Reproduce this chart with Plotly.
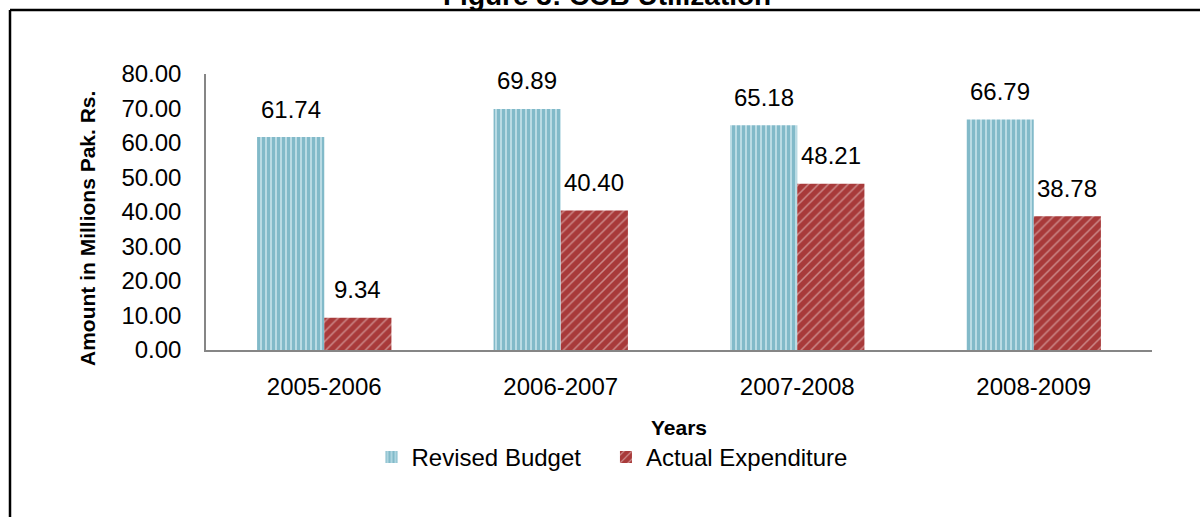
import plotly.graph_objects as go

years = ["2005-2006", "2006-2007", "2007-2008", "2008-2009"]
revised_budget = [61.74, 69.89, 65.18, 66.79]
actual_expenditure = [9.34, 40.40, 48.21, 38.78]
y_ticks = [0, 10, 20, 30, 40, 50, 60, 70, 80]

W, H = 1200, 517
ML, MR, MT, MB = 206, 48, 74, 167
PW, PH = W - ML - MR, H - MT - MB
BARGAP = 0.432


def px_x(p):
    return (p - ML) / PW


def px_y(p):
    return (H - MB - p) / PH


FONT = "Liberation Sans, Arial, sans-serif"
SIZE = 24

fig = go.Figure()
fig.add_trace(go.Bar(
    name="Revised Budget&nbsp;&nbsp;&nbsp;", x=years, y=revised_budget,
    marker=dict(color="#c6e4ec", line=dict(width=0),
                pattern=dict(shape="|", fgcolor="#3a8ea6", bgcolor="#cbe6ed",
                             size=5, solidity=0.7)),
))
fig.add_trace(go.Bar(
    name="Actual Expenditure", x=years, y=actual_expenditure,
    marker=dict(color="#a83a3a", line=dict(width=0),
                pattern=dict(shape="/", fgcolor="#f0d8d8", bgcolor="#a83a3a",
                             size=7, solidity=0.22)),
))

# value labels above each bar (bar centres sit a quarter of the group width off the category)
half = (1 - BARGAP) / 4
for series, off in ((revised_budget, -half), (actual_expenditure, half)):
    for i, v in enumerate(series):
        fig.add_annotation(
            x=i + off, y=v, xref="x", yref="y", text=f"{v:.2f}",
            showarrow=False, yanchor="middle", yshift=28,
            font=dict(family=FONT, size=SIZE, color="#000000"),
        )

# chart title, partly above the page edge
fig.add_annotation(
    x=px_x(607), y=px_y(13), xref="paper", yref="paper",
    text="<b>Figure 3: CCB Utilization</b>", showarrow=False,
    xanchor="center", yanchor="bottom",
    font=dict(family=FONT, size=28, color="#000000"),
)

# y-axis title
fig.add_annotation(
    x=px_x(87), y=px_y(228), xref="paper", yref="paper",
    text="<b>Amount in Millions Pak. Rs.</b>", showarrow=False,
    textangle=-90, xanchor="center", yanchor="middle",
    font=dict(family=FONT, size=21, color="#000000"),
)

# outer frame (left and top edges)
frame = dict(color="#000000", width=2.5)
fig.add_shape(type="line", xref="paper", yref="paper",
              x0=px_x(10), x1=px_x(10), y0=px_y(10), y1=px_y(530), line=frame)
fig.add_shape(type="line", xref="paper", yref="paper",
              x0=px_x(10), x1=px_x(1210), y0=px_y(10), y1=px_y(10), line=frame)

fig.update_layout(
    width=W, height=H,
    margin=dict(l=ML, r=MR, t=MT, b=MB),
    paper_bgcolor="#ffffff", plot_bgcolor="#ffffff",
    barmode="group", bargap=BARGAP, bargroupgap=0,
    font=dict(family=FONT, size=SIZE, color="#000000"),
    showlegend=True,
    legend=dict(orientation="h", x=px_x(612), xanchor="center", y=px_y(435),
                yanchor="top", font=dict(family=FONT, size=SIZE),
                itemwidth=30, tracegroupgap=0,
                bgcolor="rgba(0,0,0,0)"),
    xaxis=dict(
        showline=True, linecolor="#868686", linewidth=1.5,
        showgrid=False, ticks="", ticklabelstandoff=14,
        tickfont=dict(family=FONT, size=SIZE),
        title=dict(text="<b>Years</b>", standoff=22,
                   font=dict(family=FONT, size=21)),
    ),
    yaxis=dict(
        range=[0, 80], tickvals=y_ticks,
        ticktext=[f"{t:.2f}" for t in y_ticks],
        showline=True, linecolor="#868686", linewidth=1.5,
        showgrid=False, zeroline=False, ticks="", ticklabelstandoff=18,
        tickfont=dict(family=FONT, size=SIZE),
    ),
)

fig.write_html("out.html")
